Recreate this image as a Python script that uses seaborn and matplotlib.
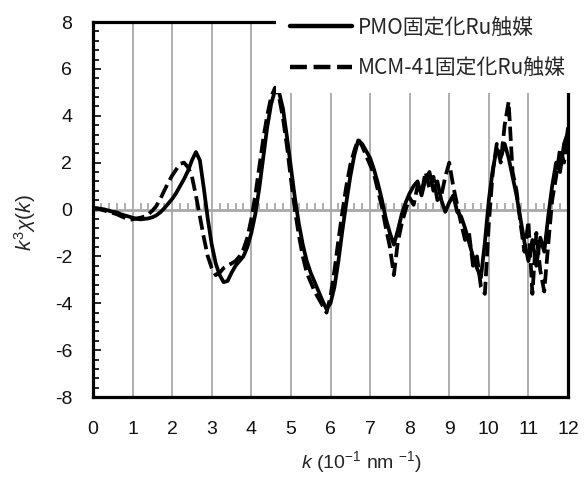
import numpy as np
import pandas as pd
import matplotlib
matplotlib.use('Agg')
import matplotlib.pyplot as plt
import seaborn as sns
from matplotlib.ticker import MultipleLocator

# k grid (10^-1 nm^-1), 0.1 step
k = np.round(np.arange(0, 121) * 0.1, 1)

# PMO固定化Ru触媒 (solid)
pmo = [0.05, 0.05, 0.03, 0.0, -0.05, -0.1, -0.12, -0.2, -0.25, -0.3,
       -0.35, -0.4, -0.42, -0.4, -0.38, -0.33, -0.25, -0.12, 0.05, 0.25,
       0.45, 0.7, 1.0, 1.3, 1.65, 2.1, 2.45, 2.1, 0.9, -0.4,
       -1.5, -2.3, -2.8, -3.1, -3.05, -2.7, -2.4, -2.2, -2.0, -1.6,
       -1.0, -0.2, 0.9, 2.2, 3.5, 4.5, 5.1, 5.0, 4.3, 3.1,
       1.8, 0.5, -0.6, -1.5, -2.2, -2.7, -3.1, -3.5, -3.9, -4.25,
       -4.0, -3.3, -2.2, -0.9, 0.3, 1.4, 2.3, 2.95, 2.8, 2.5,
       2.2, 1.7, 1.1, 0.4, -0.4, -1.0, -1.5, -0.9, -0.2, 0.3,
       0.7, 1.0, 1.2, 0.6, 1.3, 1.6, 0.8, 1.2, 0.4, -0.1,
       0.3, 0.6, -0.1, -0.3, -0.8, -1.4, -2.0, -2.5, -2.9, -1.4,
       0.4, 1.7, 2.6, 2.2, 2.8, 2.2, 1.4, 0.6, -0.4, -1.4,
       -2.2, -1.3, -2.4, -1.2, -1.8, -0.3, 1.0, 2.0, 1.6, 2.8,
       3.3]

# MCM-41固定化Ru触媒 (dashed)
mcm = [0.05, 0.05, 0.0, -0.05, -0.1, -0.15, -0.2, -0.28, -0.35, -0.45,
       -0.42, -0.38, -0.35, -0.3, -0.2, -0.05, 0.15, 0.45, 0.8, 1.15,
       1.45, 1.7, 1.95, 2.0, 1.8, 1.4, 0.6, -0.3, -1.2, -2.0,
       -2.5, -2.8, -2.7, -2.5, -2.4, -2.3, -2.2, -2.0, -1.7, -1.2,
       -0.4, 0.6, 1.8, 3.0, 4.0, 4.8, 5.2, 4.8, 3.9, 2.7,
       1.3, 0.0, -1.1, -2.0, -2.7, -3.1, -3.5, -3.8, -4.1, -4.4,
       -3.7, -2.6, -1.3, -0.1, 1.0, 1.9, 2.5, 3.0, 2.7, 2.3,
       1.9, 1.5, 0.8, 0.1, -0.8, -1.6, -2.8, -1.4, -0.6, 0.0,
       0.5, 0.2, 1.0, 0.7, 1.6, 0.9, 1.4, 0.4, 0.6, 1.4,
       2.0, 1.0, 0.2, -0.6, -1.3, -1.0, -2.4, -2.0, -3.3, -3.6,
       -0.6, 1.6, 2.8, 2.0, 3.6, 4.6, 1.6, 0.8, -0.6, -1.8,
       -0.5, -3.6, -1.0, -2.6, -3.5, -1.5, 0.4, 1.4, 2.6, 2.0,
       3.5]

labels = ['PMO固定化Ru触媒', 'MCM-41固定化Ru触媒']
x_ticks = list(range(0, 13))
y_ticks = list(range(-8, 9, 2))

sns.set_theme(style='white')
plt.rcParams['font.family'] = ['Liberation Sans', 'DejaVu Sans']
plt.rcParams['axes.unicode_minus'] = False
plt.rcParams['mathtext.fontset'] = 'custom'
plt.rcParams['mathtext.rm'] = 'Liberation Sans'
plt.rcParams['mathtext.it'] = 'Liberation Sans:italic'

fig = plt.figure(figsize=(5.87, 4.78), dpi=100)
ax = fig.add_axes([93 / 587, 1 - 397 / 478, (568 - 93) / 587, (397 - 22) / 478])

df = pd.DataFrame({'k': k, 'pmo': pmo, 'mcm': mcm})
sns.lineplot(data=df, x='k', y='pmo', color='black', lw=2.7, ax=ax, label=labels[0])
sns.lineplot(data=df, x='k', y='mcm', color='black', lw=2.7, ax=ax, label=labels[1],
             linestyle=(0, (3.8, 1.5)))

ax.set_xlim(0, 12)
ax.set_ylim(-8, 8)
ax.set_xticks(x_ticks)
ax.set_yticks(y_ticks)
ax.yaxis.set_minor_locator(MultipleLocator(0.4))
ax.grid(axis='x', color='#a8a8a8', lw=1.3)
ax.grid(axis='y', visible=False)
ax.axhline(0, color='#a8a8a8', lw=2, zorder=0.5)

# little ticks along the zero line
zax = ax.secondary_xaxis(0.5)
zax.xaxis.set_major_locator(MultipleLocator(1))
zax.xaxis.set_minor_locator(MultipleLocator(0.2))
zax.tick_params(which='both', direction='out', labeltop=False, labelbottom=False,
                color='#a0a0a0', width=1.2)
zax.tick_params(which='major', length=0)
zax.tick_params(which='minor', length=4)
for s in zax.spines.values():
    s.set_visible(False)

for s in ax.spines.values():
    s.set_visible(True)
    s.set_color('black')
    s.set_linewidth(2.3)

ax.tick_params(axis='y', which='major', direction='in', length=6, width=1.2,
               color='black', left=True, pad=15, labelsize=14)
ax.tick_params(axis='y', which='minor', direction='in', length=4, width=1.2,
               color='black', left=True)
ax.tick_params(axis='x', which='both', length=0, pad=17, labelsize=14)
for t in ax.get_xticklabels() + ax.get_yticklabels():
    t.set_color('#111111')

ax.set_xlabel('')
ax.set_ylabel('')
fig.text(362 / 587, 1 - 462 / 478, r'$k$ (10$^{-1}$ nm $^{-1}$)', ha='center', va='center',
         fontsize=14)
fig.text(25 / 587, 1 - 223 / 478, r'$k^{3}\chi(k)$', ha='center', va='center',
         rotation=90, fontsize=15)

leg = ax.legend(loc='lower left', bbox_to_anchor=(276 / 587, 1 - 93 / 478),
                bbox_transform=fig.transFigure, borderaxespad=0, borderpad=0.65,
                handlelength=3.0, handletextpad=0.3, labelspacing=0.9,
                frameon=True, fancybox=False, facecolor='white', edgecolor='none',
                framealpha=1, prop={'family': ['Noto Sans CJK JP', 'DejaVu Sans'], 'size': 15})
for line in leg.get_lines():
    line.set_linewidth(3.2)

fig.savefig('out.png', dpi=100, facecolor='white')
